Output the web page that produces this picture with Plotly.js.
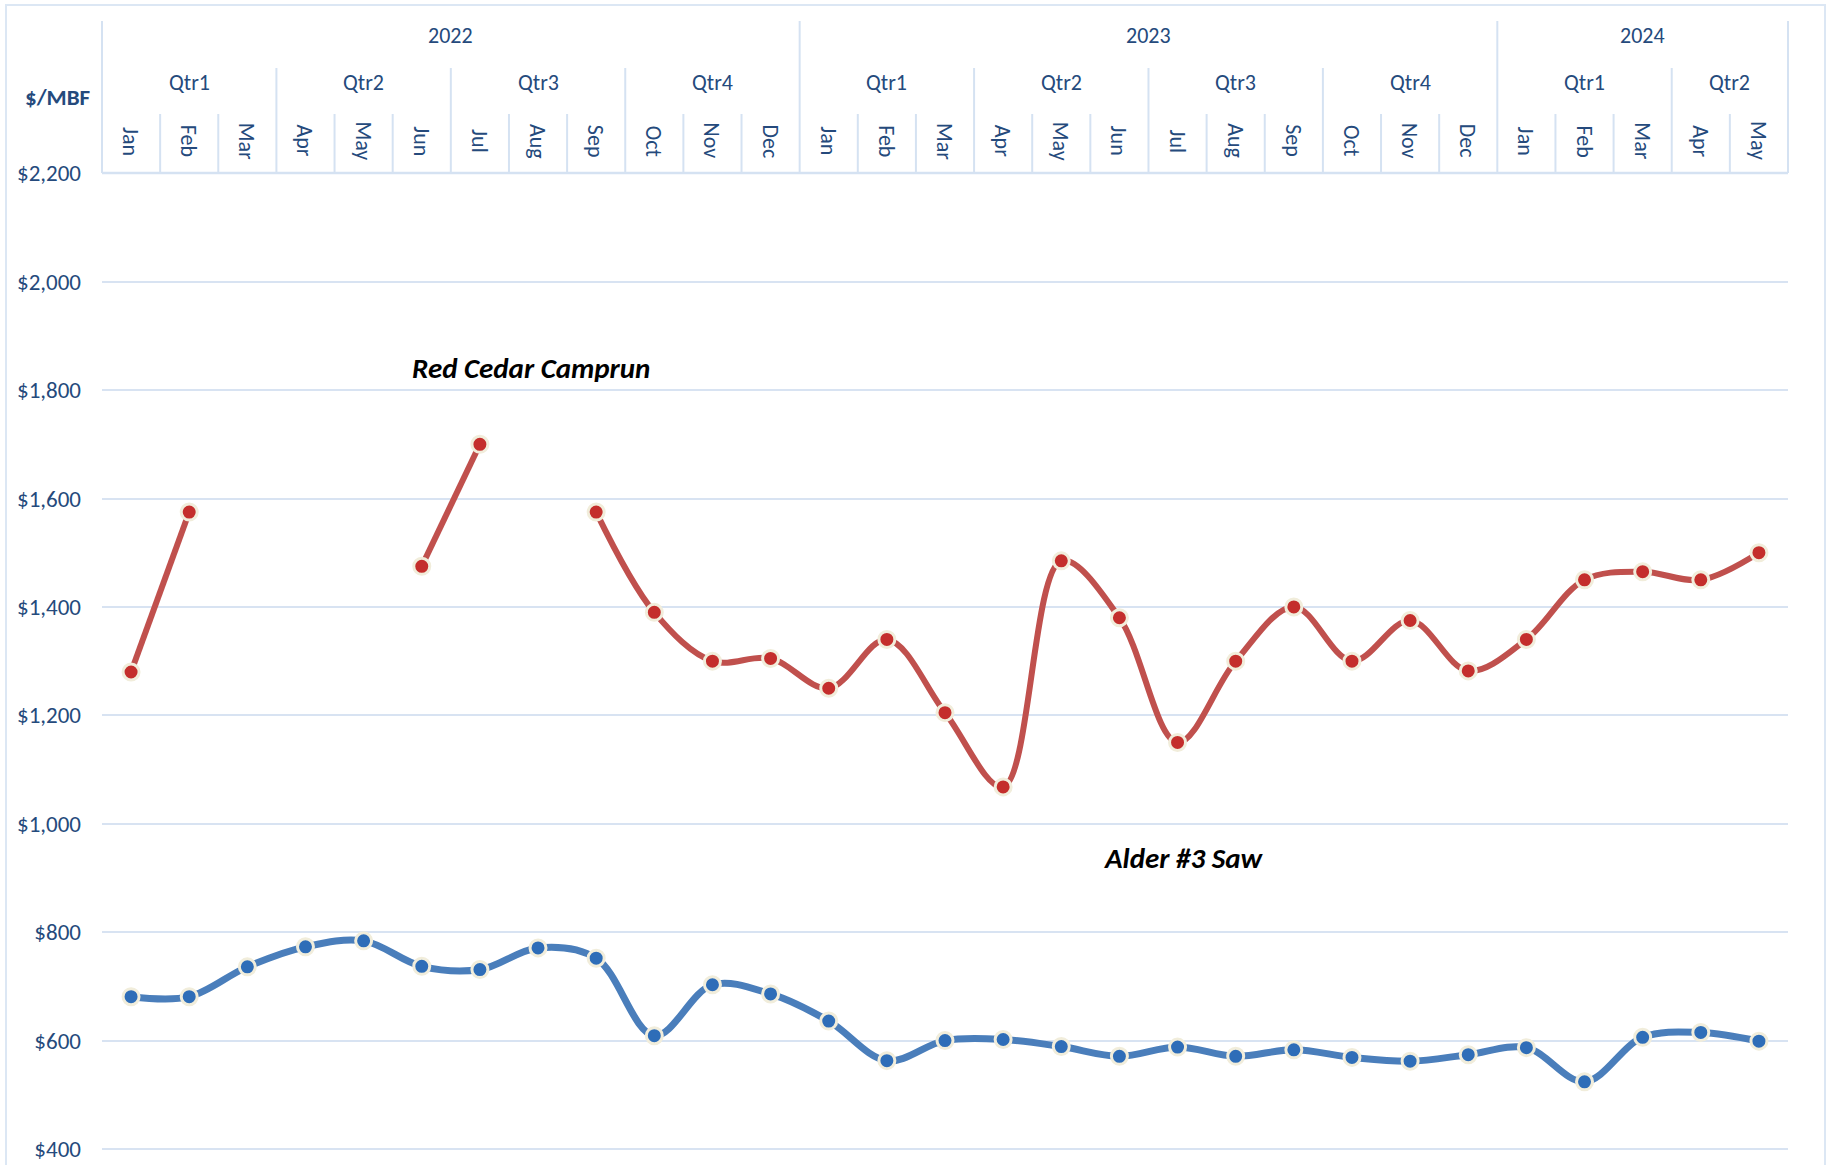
<!DOCTYPE html>
<html>
<head>
<meta charset="utf-8">
<script src="https://cdn.plot.ly/plotly-3.0.1.min.js"></script>
<style>html,body{margin:0;padding:0;background:#fff;}#chart{width:1827px;height:1165px;}</style>
</head>
<body>
<div id="chart"></div>
<script>
// ---- data ----
const monthLabels = ['Jan','Feb','Mar','Apr','May','Jun','Jul','Aug','Sep','Oct','Nov','Dec',
                     'Jan','Feb','Mar','Apr','May','Jun','Jul','Aug','Sep','Oct','Nov','Dec',
                     'Jan','Feb','Mar','Apr','May'];
const quarterLabels = ['Qtr1','Qtr2','Qtr3','Qtr4','Qtr1','Qtr2','Qtr3','Qtr4','Qtr1','Qtr2'];
const quarterMonths = [3,3,3,3,3,3,3,3,3,2];
const yearLabels = ['2022','2023','2024'];
const yearMonths = [12,12,5];

const redCedar = [1280,1575,null,null,null,1475,1700,null,1575,1390,1300,1305,
                  1250,1340,1205,1068,1485,1380,1150,1300,1400,1300,1375,1282,
                  1340,1450,1465,1450,1500];
const alder3 = [681,681,736,773,784,737,731,771,752,609,703,686,
                636,563,600,602,589,571,588,571,583,569,562,574,
                587,524,606,615,599];
const yTicks = [400,600,800,1000,1200,1400,1600,1800,2000,2200];
const yTickText = yTicks.map(v => '$' + v.toLocaleString('en-US'));

// ---- layout helpers ----
const N = monthLabels.length;
const xIdx = monthLabels.map((_, i) => i);
const plotTop = 173, plotH = 992, plotL = 102, plotW = 1686;
const py = p => 1 + (plotTop - p) / plotH;   // pixel -> paper y
const px = p => (p - plotL) / plotW;         // pixel -> paper x
const textColor = '#254A7C';
const hdrColor = '#D5E2F2';
const FONT = 'Carlito, Lato, sans-serif';

const shapes = [];
const annotations = [];
const yTopYear = py(21), yTopQtr = py(68), yTopMonth = py(114);

function vline(xp, y0, y1) {
  shapes.push({type:'line', xref:'paper', yref:'paper', x0:xp, x1:xp, y0:y0, y1:y1,
               line:{color:hdrColor, width:2}});
}
function label(xref, x, y, text, size, angle, color) {
  annotations.push({xref:xref, yref:'paper', x:x, y:y, text:text, textangle:angle || 0,
                    showarrow:false, xanchor:'center', yanchor:'middle',
                    font:{family:FONT, size:size, color:color || textColor}});
}

// month separators
for (let k = 0; k <= N; k++) vline(k/N, 1, yTopMonth);
// quarter separators + labels
let acc = 0;
quarterLabels.forEach((q, i) => {
  vline(acc/N, yTopMonth, yTopQtr);
  label('paper', (acc + quarterMonths[i]/2)/N, py(83), q, 22);
  acc += quarterMonths[i];
});
vline(1, yTopMonth, yTopQtr);
// year separators + labels
acc = 0;
yearLabels.forEach((yl, i) => {
  vline(acc/N, yTopQtr, yTopYear);
  label('paper', (acc + yearMonths[i]/2)/N, py(36), yl, 22);
  acc += yearMonths[i];
});
vline(1, yTopQtr, yTopYear);
// header base
shapes.push({type:'line', xref:'paper', yref:'paper', x0:0, x1:1, y0:1, y1:1,
             line:{color:hdrColor, width:2.5}});
// outer border
shapes.push({type:'rect', xref:'paper', yref:'paper', x0:px(6), x1:px(1825), y0:-0.05, y1:py(5),
             line:{color:'#DCE7F4', width:2}, fillcolor:'rgba(0,0,0,0)'});

// month labels (rotated)
monthLabels.forEach((m, i) => label('x', i, py(141), m, 22, 90));
// unit label
label('paper', px(57), py(97), '<b>$/MBF</b>', 23);
// series labels
label('paper', px(531), py(368), '<b><i>Red Cedar Camprun</i></b>', 29, 0, '#000000');
label('paper', px(1184), py(858), '<b><i>Alder #3 Saw</i></b>', 29, 0, '#000000');

const traces = [
  {x:xIdx, y:redCedar, name:'Red Cedar Camprun', type:'scatter', mode:'lines+markers',
   connectgaps:false, line:{color:'#C0504D', width:6, shape:'spline', smoothing:1},
   marker:{size:16, color:'#C42E2C', line:{color:'#F1EDDB', width:3}}, cliponaxis:false},
  {x:xIdx, y:alder3, name:'Alder #3 Saw', type:'scatter', mode:'lines+markers',
   line:{color:'#4A7EBB', width:7, shape:'spline', smoothing:1},
   marker:{size:16, color:'#2E6DB8', line:{color:'#F1EDDB', width:3}}, cliponaxis:false}
];

const layout = {
  width:1827, height:1165,
  margin:{l:plotL, r:1827-plotL-plotW, t:plotTop, b:0, pad:0},
  paper_bgcolor:'#ffffff', plot_bgcolor:'#ffffff',
  showlegend:false,
  xaxis:{range:[-0.5, N-0.5], showgrid:false, zeroline:false, showticklabels:false,
         showline:false, ticks:'', fixedrange:true},
  yaxis:{range:[370.5, 2200.5], tickmode:'array', tickvals:yTicks, ticktext:yTickText,
         showgrid:true, gridcolor:'#D8E3F2', gridwidth:2, zeroline:false, showline:false,
         ticks:'', ticklabelstandoff:20,
         tickfont:{family:FONT, size:23, color:textColor}},
  shapes:shapes, annotations:annotations
};

Plotly.newPlot('chart', traces, layout, {displayModeBar:false, staticPlot:true});
</script>
</body>
</html>
